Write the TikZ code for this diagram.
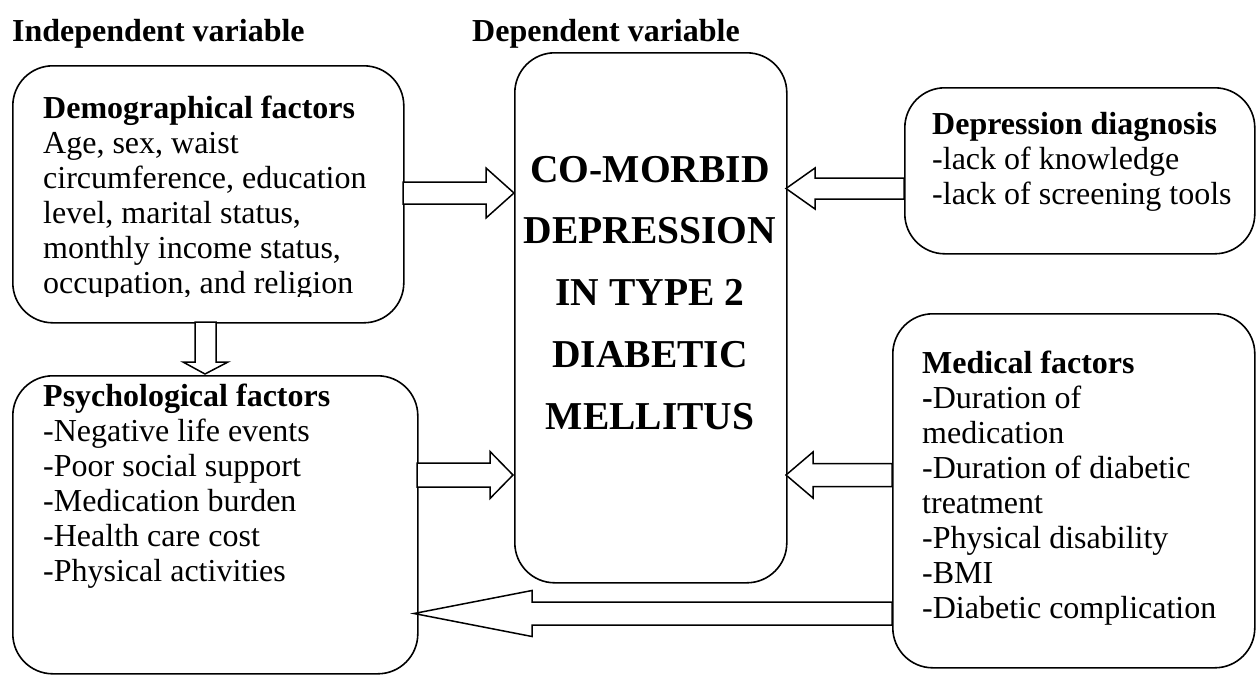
\documentclass[tikz,border=0pt]{standalone}
\usepackage{fontspec}
\setmainfont{Liberation Serif}
\newcommand{\boxlines}[1]{\begin{tabular}[t]{@{}l@{}}#1\end{tabular}}
\newcommand{\centerlines}[1]{\begin{tabular}[t]{@{}c@{}}#1\end{tabular}}
% horizontal block arrow: tail x, head-back x, tip x, mid y, shaft half, head half
\newcommand{\harrow}[6]{%
  \draw[blk] (#1,#4-#5) -- (#2,#4-#5) -- (#2,#4-#6) -- (#3,#4) -- (#2,#4+#6) -- (#2,#4+#5) -- (#1,#4+#5) -- cycle;}
\begin{document}
\begin{tikzpicture}[x=1pt,y=-1pt,
  box/.style={draw=black, line width=1.6pt, rounded corners=40pt, inner sep=0pt, anchor=north west},
  txt/.style={anchor=base west, inner sep=0pt, font=\fontsize{32}{35}\selectfont},
  head/.style={anchor=base west, inner sep=0pt, font=\fontsize{32}{35}\selectfont\bfseries},
  ctxt/.style={anchor=base, inner sep=0pt, font=\fontsize{39.5}{61.75}\selectfont\bfseries},
  blk/.style={draw=black, fill=white, line width=1.5pt, line join=miter}]
\useasboundingbox (0,0) rectangle (1256,675);

% headings
\node[head] (hind) at (12,41) {Independent variable};
\node[head] (hdep) at (472,41) {Dependent variable};

% boxes
\node[box, minimum width=391pt, minimum height=257pt] (demo) at (12,65) {};
\node[box, minimum width=405pt, minimum height=298pt] (psych) at (12,375) {};
\node[box, minimum width=272pt, minimum height=530pt] (central) at (514,52) {};
\node[box, minimum width=350pt, minimum height=166pt] (diag) at (904,87) {};
\node[box, minimum width=362pt, minimum height=354pt] (med) at (892,313) {};

% box texts
\begin{scope}
\clip (12,65) rectangle (403,296);
\node[txt] (demoT) at (43,118) {\boxlines{\textbf{Demographical factors}\\
Age, sex, waist\\
circumference, education\\
level, marital status,\\
monthly income status,\\
occupation, and religion}};
\end{scope}

\node[txt] (psychT) at (43,406) {\boxlines{\textbf{Psychological factors}\\
-Negative life events\\
-Poor social support\\
-Medication burden\\
-Health care cost\\
-Physical activities}};

\node[ctxt] (centralT) at (650,182) {\centerlines{CO-MORBID\\
DEPRESSION\\
IN TYPE 2\\
DIABETIC\\
MELLITUS}};

\node[txt] (diagT) at (932,134) {\boxlines{\textbf{Depression diagnosis}\\
-lack of knowledge\\
-lack of screening tools}};

\node[txt] (medT) at (922,373) {\boxlines{\textbf{Medical factors}\\
\textbf{-}Duration of\\
medication\\
-Duration of diabetic\\
treatment\\
-Physical disability\\
-BMI\\
-Diabetic complication}};

% block arrows
\harrow{403}{486}{514}{193}{11}{25}
\harrow{904}{815}{786}{188.5}{10.5}{20.5}
\harrow{417}{490}{513}{475}{12}{23.5}
\harrow{892}{813}{786}{475}{11.5}{23}
\harrow{892}{532}{414}{613.5}{11.5}{23}
\draw[blk] (195,322) -- (195,362) -- (183,362) -- (205,374) -- (228,362) -- (216,362) -- (216,322) -- cycle;
\end{tikzpicture}
\end{document}
